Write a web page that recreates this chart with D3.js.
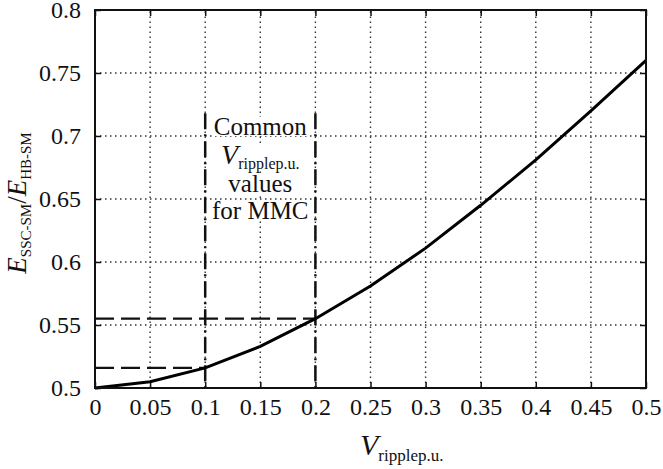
<!DOCTYPE html>
<html>
<head>
<meta charset="utf-8">
<script src="https://cdn.jsdelivr.net/npm/d3@7"></script>
<style>
  body { margin: 0; background: #fff; }
  svg text { font-family: "Liberation Serif", "Tinos", "Times New Roman", Times, "DejaVu Serif", "Noto Serif", serif !important; fill: #111; }
</style>
</head>
<body>
<script>
// values
let vRipple = [0, 0.05, 0.1, 0.15, 0.2, 0.25, 0.3, 0.35, 0.4, 0.45, 0.5]
let energyRatio = [0.5, 0.505, 0.516, 0.533, 0.555, 0.581, 0.611, 0.645, 0.681, 0.72, 0.76]
let xTicks = [0, 0.05, 0.1, 0.15, 0.2, 0.25, 0.3, 0.35, 0.4, 0.45, 0.5]
let yTicks = [0.5, 0.55, 0.6, 0.65, 0.7, 0.75, 0.8]
let markerX = [0.1, 0.2]
let markerY = [0.516, 0.555]
let markerTop = 0.718
let noteLines = ['Common', 'V', 'values', 'for MMC']

let w = 663
let h = 469
let m = {left: 95, right: 17, top: 10, bottom: 81}

let svg = d3.select('body').append('svg').attr('width', w).attr('height', h)

let x = d3.scaleLinear().domain([0, 0.5]).range([m.left, w - m.right])
let y = d3.scaleLinear().domain([0.5, 0.8]).range([h - m.bottom, m.top])

let fmt = d => String(+d.toFixed(2))

// dotted grid
svg.append('g').selectAll('line')
  .data(xTicks.slice(1, -1))
  .enter().append('line')
  .attr('x1', d => x(d)).attr('x2', d => x(d))
  .attr('y1', y(0.5)).attr('y2', y(0.8))
  .attr('stroke', '#333').attr('stroke-width', 1.4).attr('stroke-dasharray', '1.5,3.5')

svg.append('g').selectAll('line')
  .data(yTicks.slice(1, -1))
  .enter().append('line')
  .attr('x1', x(0)).attr('x2', x(0.5))
  .attr('y1', d => y(d)).attr('y2', d => y(d))
  .attr('stroke', '#333').attr('stroke-width', 1.4).attr('stroke-dasharray', '1.5,3.5')

// axes, ticks pointing inward
let styleAxis = g => {
  g.attr('font-family', null)
  g.select('.domain').remove()
  g.selectAll('line').attr('stroke', '#111').attr('stroke-width', 1.5)
  g.selectAll('text').attr('font-size', 24).attr('fill', '#111')
}

svg.append('g').attr('transform', `translate(0,${y(0.5)})`)
  .call(d3.axisBottom(x).tickValues(xTicks).tickFormat(fmt).tickSizeInner(-6).tickSizeOuter(0).tickPadding(10))
  .call(styleAxis)
svg.append('g').attr('transform', `translate(0,${y(0.8)})`)
  .call(d3.axisTop(x).tickValues(xTicks).tickFormat('').tickSizeInner(-6).tickSizeOuter(0))
  .call(styleAxis)
svg.append('g').attr('transform', `translate(${x(0)},0)`)
  .call(d3.axisLeft(y).tickValues(yTicks).tickFormat(fmt).tickSizeInner(-6).tickSizeOuter(0).tickPadding(14))
  .call(styleAxis)
svg.append('g').attr('transform', `translate(${x(0.5)},0)`)
  .call(d3.axisRight(y).tickValues(yTicks).tickFormat('').tickSizeInner(-6).tickSizeOuter(0))
  .call(styleAxis)

// annotation text with white backing
let note = svg.append('g')
let noteX = (x(markerX[0]) + x(markerX[1])) / 2
let noteBase = [135, 164, 192, 219]
noteLines.forEach((s, i) => {
  let t = note.append('text')
    .attr('x', noteX).attr('y', noteBase[i])
    .attr('text-anchor', 'middle').attr('font-size', 25)
  if (s === 'V') {
    t.append('tspan').attr('font-style', 'italic').attr('font-size', 28).text('V')
    t.append('tspan').attr('font-size', 16).attr('dy', 5).text('ripplep.u.')
  } else {
    t.text(s)
  }
  let b = t.node().getBBox()
  note.insert('rect', 'text')
    .attr('x', b.x - 1).attr('y', b.y + 4).attr('width', b.width + 2).attr('height', b.height - 8)
    .attr('fill', '#fff')
})

// dashed guides
svg.append('g').selectAll('line')
  .data(markerX)
  .enter().append('line')
  .attr('x1', d => x(d)).attr('x2', d => x(d))
  .attr('y1', y(markerTop)).attr('y2', y(0.5))
  .attr('stroke', '#111').attr('stroke-width', 2.5).attr('stroke-dasharray', '16,5,2,5')

svg.append('g').selectAll('line')
  .data(markerY)
  .enter().append('line')
  .attr('x1', x(0)).attr('x2', (d, i) => x(markerX[i]))
  .attr('y1', d => y(d)).attr('y2', d => y(d))
  .attr('stroke', '#111').attr('stroke-width', 2.2).attr('stroke-dasharray', '19,7')

// curve
let line = d3.line().x((d, i) => x(vRipple[i])).y(d => y(d))
svg.append('path')
  .datum(energyRatio)
  .attr('d', line)
  .attr('fill', 'none').attr('stroke', '#000').attr('stroke-width', 3)

// frame
svg.append('rect')
  .attr('x', x(0)).attr('y', y(0.8))
  .attr('width', x(0.5) - x(0)).attr('height', y(0.5) - y(0.8))
  .attr('fill', 'none').attr('stroke', '#111').attr('stroke-width', 2)

// axis titles
let xl = svg.append('text').attr('x', 360).attr('y', 455)
xl.append('tspan').attr('font-style', 'italic').attr('font-size', 30).text('V')
xl.append('tspan').attr('font-size', 17).attr('dy', 6).text('ripplep.u.')

let yl = svg.append('text')
  .attr('transform', `translate(26,${(y(0.5) + y(0.8)) / 2 + 4}) rotate(-90)`)
  .attr('text-anchor', 'middle')
yl.append('tspan').attr('font-style', 'italic').attr('font-size', 27).text('E')
yl.append('tspan').attr('font-size', 15).attr('dy', 5).text('SSC-SM')
yl.append('tspan').attr('font-size', 27).attr('dy', -5).text('/')
yl.append('tspan').attr('font-style', 'italic').attr('font-size', 27).text('E')
yl.append('tspan').attr('font-size', 15).attr('dy', 5).text('HB-SM')
</script>
</body>
</html>
